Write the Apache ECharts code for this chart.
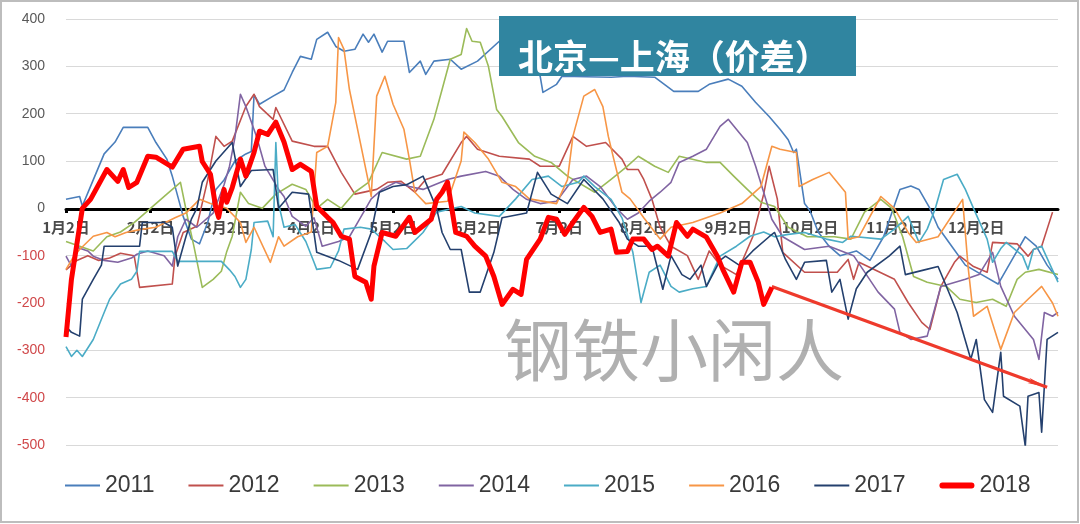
<!DOCTYPE html>
<html><head><meta charset="utf-8">
<script src="https://cdn.jsdelivr.net/npm/echarts@6/dist/echarts.min.js"></script>
<style>html,body{margin:0;padding:0;background:#fff}#c{width:1080px;height:524px}</style>
</head><body><div id="c"></div>
<script>
// x = day index counted from 1月2日 (0) to next 1月1日 (364)
const monthDays = [31,28,31,30,31,30,31,31,30,31,30,31];
const seriesNames = ['2011','2012','2013','2014','2015','2016','2017','2018'];
const seriesColors = ['#4a7ebb','#c0504d','#9bbb59','#8064a2','#4bacc6','#f79646','#24406e','#ff0000'];
const titleText = '北京—上海（价差）';
const watermarkText = '钢铁小闲人';

const s2011 = [[0,19],[5,25],[6,5],[10,60],[14,115],[18,140],[21,171],[30,171],[33,139],[37,104],[39,68],[43,-17],[46,-65],[49,-75],[52,-30],[55,40],[58,60],[62,100],[66,115],[68,120],[69,240],[71,220],[76,237],[80,250],[83,287],[86,321],[90,315],[92,357],[96,372],[99,342],[102,332],[106,336],[109,368],[111,351],[113,368],[116,330],[118,353],[124,353],[126,287],[130,311],[132,283],[135,311],[141,315],[145,294],[151,311],[159,353],[165,350],[170,320],[174,279],[175,245],[180,262],[182,279],[200,277],[206,279],[216,277],[223,247],[232,247],[236,262],[243,273],[248,258],[253,224],[258,194],[262,167],[265,145],[267,118],[268,125],[271,10],[273,-5],[276,-50],[280,-80],[284,-100],[290,-90],[295,-110],[300,-60],[303,-10],[306,40],[310,47],[313,40],[317,0],[320,-40],[325,-80],[330,-120],[336,-140],[342,-160],[348,-100],[352,-60],[356,-80],[360,-120],[364,-150]];
const s2012 = [[0,-130],[4,-110],[8,-100],[12,-110],[16,-105],[20,-95],[25,-100],[27,-167],[39,-160],[40,-101],[43,-51],[48,-38],[52,60],[55,152],[58,131],[61,142],[66,215],[69,241],[71,215],[76,188],[77,213],[83,142],[91,131],[96,131],[101,76],[106,30],[114,40],[118,55],[123,57],[128,34],[132,61],[138,72],[145,139],[147,152],[151,125],[159,110],[170,104],[174,89],[181,89],[186,152],[191,131],[198,139],[204,104],[206,82],[210,82],[212,61],[215,19],[218,-40],[222,-80],[228,-100],[232,-150],[236,-90],[240,-120],[246,-140],[252,-60],[256,30],[258,89],[261,20],[263,-93],[271,-135],[283,-135],[287,-108],[289,-150],[291,-114],[304,-150],[309,-199],[314,-241],[317,-256],[321,-165],[326,-114],[328,-101],[333,-123],[338,-135],[340,-72],[349,-75],[353,-101],[355,-87],[358,-80],[362,-8]];
const s2013 = [[0,-70],[5,-80],[10,-90],[15,-60],[20,-50],[25,-30],[31,0],[37,30],[42,55],[45,-30],[47,-82],[50,-167],[54,-150],[57,-133],[59,-91],[61,-59],[64,34],[67,10],[72,0],[77,30],[83,51],[88,40],[92,0],[96,19],[101,0],[106,34],[111,55],[116,118],[125,104],[130,110],[135,188],[138,251],[141,315],[145,325],[147,380],[149,353],[152,351],[155,300],[158,209],[160,194],[166,139],[172,110],[178,97],[184,68],[194,34],[200,61],[206,89],[210,110],[216,89],[221,76],[225,110],[235,97],[240,97],[245,68],[250,40],[255,13],[260,4],[265,-40],[272,-60],[282,-60],[288,-65],[293,-8],[299,19],[303,0],[307,-60],[311,-144],[316,-156],[323,-165],[328,-192],[334,-199],[340,-192],[345,-207],[349,-150],[352,-135],[357,-129],[364,-140]];
const s2014 = [[0,-101],[2,-122],[4,-82],[8,-90],[10,-101],[14,-110],[19,-114],[24,-105],[26,-97],[30,-90],[36,-100],[39,-122],[41,-60],[44,-23],[48,-40],[54,-10],[58,50],[60,89],[62,150],[64,241],[66,215],[70,150],[73,89],[78,40],[80,25],[83,-17],[88,-38],[91,-20],[94,-80],[100,-70],[104,-60],[108,-20],[112,20],[116,40],[121,55],[126,46],[131,40],[140,61],[145,68],[154,78],[159,68],[164,40],[169,19],[174,10],[180,15],[186,61],[191,68],[196,46],[202,0],[206,-23],[210,-10],[214,15],[218,34],[222,55],[225,97],[230,110],[235,125],[240,173],[243,188],[246,167],[250,139],[253,90],[256,34],[259,-23],[263,-60],[271,-87],[280,-80],[289,-100],[298,-177],[304,-213],[306,-262],[310,-277],[316,-270],[318,-228],[321,-165],[330,-150],[335,-140],[340,-93],[343,-165],[348,-228],[355,-277],[357,-319],[359,-220],[362,-228],[364,-220]];
const s2015 = [[0,-292],[2,-313],[4,-300],[6,-313],[10,-277],[14,-220],[16,-192],[20,-160],[24,-150],[26,-133],[27,-91],[39,-91],[41,-112],[57,-112],[60,-130],[62,-144],[64,-167],[66,-150],[68,-87],[69,-30],[74,-27],[76,-60],[77,139],[78,10],[80,-40],[84,-34],[88,-70],[91,-114],[92,-129],[97,-125],[100,-90],[102,-44],[108,-40],[112,-44],[117,-70],[120,-87],[125,-85],[131,-51],[136,-8],[145,4],[150,-10],[159,-17],[165,20],[171,61],[177,68],[182,46],[188,55],[190,68],[194,46],[200,19],[204,-20],[208,-93],[211,-199],[214,-135],[218,-120],[222,-165],[225,-177],[230,-170],[235,-165],[240,-101],[246,-80],[251,-59],[256,-50],[260,-60],[265,-55],[271,-51],[279,-65],[285,-72],[288,-59],[299,-65],[304,-44],[309,-17],[313,-72],[316,-44],[319,0],[322,61],[327,72],[330,40],[333,0],[338,-65],[340,-114],[343,-85],[345,-72],[351,-100],[353,-129],[355,-87],[358,-80],[364,-156]];
const s2016 = [[0,-129],[3,-100],[5,-87],[10,-59],[15,-51],[18,-60],[22,-51],[27,-45],[33,-40],[40,-20],[44,-10],[49,19],[53,10],[59,0],[64,-30],[66,-72],[69,-40],[75,-114],[78,-60],[80,-80],[85,-60],[90,-50],[92,118],[96,131],[99,224],[100,361],[102,336],[104,251],[108,139],[111,55],[112,25],[114,237],[117,279],[120,220],[124,167],[126,104],[128,34],[132,10],[140,15],[145,100],[146,161],[150,139],[155,104],[160,55],[165,46],[170,20],[180,10],[184,60],[186,152],[190,237],[194,251],[197,215],[199,152],[201,104],[204,34],[207,20],[212,-20],[218,-65],[222,-40],[230,-30],[240,-10],[248,10],[255,46],[259,131],[262,125],[268,118],[269,46],[274,61],[280,76],[286,34],[287,-65],[291,-60],[299,25],[304,0],[309,-51],[312,-72],[320,-60],[329,19],[331,-123],[333,-228],[338,-207],[343,-298],[348,-220],[353,-192],[358,-165],[362,-200],[364,-228]];
const s2017 = [[0,-250],[2,-262],[5,-270],[6,-192],[10,-150],[13,-120],[14,-80],[27,-80],[28,-30],[36,-30],[39,-40],[41,-122],[44,-60],[46,-23],[48,0],[50,55],[55,100],[61,139],[64,46],[68,80],[76,82],[78,0],[83,34],[89,30],[92,-93],[100,-110],[107,-129],[112,-51],[115,34],[120,46],[125,50],[131,68],[136,0],[138,-51],[141,-87],[145,-87],[148,-177],[152,-177],[157,-93],[160,-20],[169,-10],[173,76],[178,30],[184,10],[190,61],[197,20],[203,-30],[206,-65],[210,-80],[215,-80],[219,-171],[222,-100],[226,-140],[229,-150],[233,-120],[235,-165],[240,-110],[242,-101],[247,-120],[252,-90],[258,-60],[260,-51],[264,-108],[268,-150],[271,-114],[279,-110],[281,-177],[284,-150],[287,-234],[290,-170],[294,-135],[302,-101],[306,-80],[308,-140],[315,-130],[320,-123],[325,-192],[327,-220],[332,-319],[334,-277],[337,-404],[340,-431],[343,-304],[344,-397],[350,-418],[352,-503],[353,-397],[357,-389],[358,-473],[360,-277],[364,-262]];
const s2018 = [[0,-272],[2,-150],[6,0],[9,19],[15,82],[19,57],[21,82],[23,44],[26,55],[30,110],[33,108],[39,87],[43,125],[49,131],[50,99],[53,72],[55,0],[56,-19],[58,40],[59,13],[61,44],[64,104],[66,68],[69,118],[71,163],[74,156],[77,182],[80,140],[83,82],[86,93],[90,78],[92,4],[96,-19],[98,-30],[101,-59],[104,-65],[106,-144],[110,-156],[112,-192],[113,-122],[116,-51],[121,-59],[126,-19],[128,-51],[134,-23],[136,19],[138,34],[140,55],[143,-51],[147,-59],[150,-80],[154,-101],[157,-144],[160,-203],[164,-171],[167,-182],[169,-108],[174,-65],[177,-19],[180,-23],[183,-55],[186,-30],[190,2],[193,-17],[196,-51],[200,-44],[202,-93],[206,-91],[208,-65],[212,-65],[215,-87],[217,-80],[221,-101],[224,-30],[228,-59],[230,-44],[235,-61],[239,-101],[241,-129],[245,-177],[248,-114],[251,-114],[254,-156],[256,-203],[259,-167]];
const arrowFrom = [259,-165];
const arrowTo = [360,-378];
const seriesData = [s2011,s2012,s2013,s2014,s2015,s2016,s2017,s2018];

// day categories
const categories = [];
for (let m = 0; m < 12; m++) {
  for (let d = 1; d <= monthDays[m]; d++) {
    if (m === 0 && d === 1) continue;
    categories.push((m + 1) + '月' + d + '日');
  }
}
categories.push('1月1日');
const showTick = (i, v) => /月2日$/.test(v) && i < categories.length - 1;

const chart = echarts.init(document.getElementById('c'), null, {renderer: 'canvas'});
const series = seriesNames.map((n, i) => {
  const is18 = n === '2018';
  const s = {
    name: n, type: 'line', data: seriesData[i], symbol: 'none', showSymbol: false,
    z: is18 ? 10 : 3 + (i === 6 ? 1 : 0),
    lineStyle: {color: seriesColors[i], width: is18 ? 5 : 1.6, join: 'round'},
    itemStyle: {color: seriesColors[i]},
    emphasis: {disabled: true}, animation: false
  };
  if (is18) {
    s.markLine = {
      silent: true, animation: false,
      symbol: ['none', 'arrow'], symbolSize: [4, 20],
      label: {show: false},
      lineStyle: {color: '#ee3a2c', width: 3.2, type: 'solid'},
      data: [[{coord: arrowFrom}, {coord: arrowTo}]]
    };
  }
  return s;
});

chart.setOption({
  animation: false,
  backgroundColor: '#fff',
  grid: {left: 66, right: 22, top: 19, bottom: 79, containLabel: false},
  xAxis: {
    type: 'category', data: categories, boundaryGap: false,
    position: 'bottom', offset: -236,
    axisLine: {onZero: false, lineStyle: {color: '#000', width: 3}},
    axisTick: {show: true, interval: showTick, length: 4, lineStyle: {color: '#000', width: 3}},
    axisLabel: {interval: showTick, margin: 11, color: '#4a4a4a', fontSize: 15, fontWeight: 'bold',
      fontFamily: 'Noto Sans CJK SC'},
    splitLine: {show: false}
  },
  yAxis: {
    type: 'value', min: -500, max: 400, interval: 100,
    axisLine: {show: false}, axisTick: {show: false},
    splitLine: {lineStyle: {color: '#d9d9d9', width: 1}},
    axisLabel: {margin: 21, fontSize: 14, fontFamily: 'Liberation Sans',
      formatter: v => v < 0 ? '{n|' + v + '}' : '{p|' + v + '}',
      rich: {n: {color: '#d0484a', fontSize: 14}, p: {color: '#595959', fontSize: 14}}}
  },
  legend: {
    left: 60, top: 469, itemWidth: 35, itemHeight: 8, itemGap: 34,
    textStyle: {fontSize: 23, color: '#3a3a3a', fontFamily: 'Liberation Sans'},
    data: seriesNames.map((n) => ({name: n,
      icon: n === '2018' ? 'path://M3,0H33A3,3 0 0 1 33,6H3A3,3 0 0 1 3,0Z' : 'path://M0,0H36V2H0Z'}))
  },
  graphic: [
    {type: 'rect', silent: true, z: 100, shape: {x: 1, y: 1, width: 1077, height: 521},
      style: {fill: 'none', stroke: '#bdbdbd', lineWidth: 2}},
    {type: 'rect', silent: true, z: 50, shape: {x: 499, y: 16, width: 357, height: 60},
      style: {fill: '#3085a0'}},
    {type: 'text', silent: true, z: 51, x: 518, y: 57,
      style: {text: titleText, fill: '#fff', fontSize: 35, fontWeight: 'bold',
        fontFamily: 'Noto Sans CJK SC', verticalAlign: 'middle'}},
    {type: 'text', silent: true, z: 1, x: 674, y: 350,
      style: {text: watermarkText, fill: 'rgba(150,150,150,0.75)', fontSize: 68,
        fontFamily: 'Noto Sans CJK SC', align: 'center', verticalAlign: 'middle'}}
  ],
  series: series
});
</script></body></html>
